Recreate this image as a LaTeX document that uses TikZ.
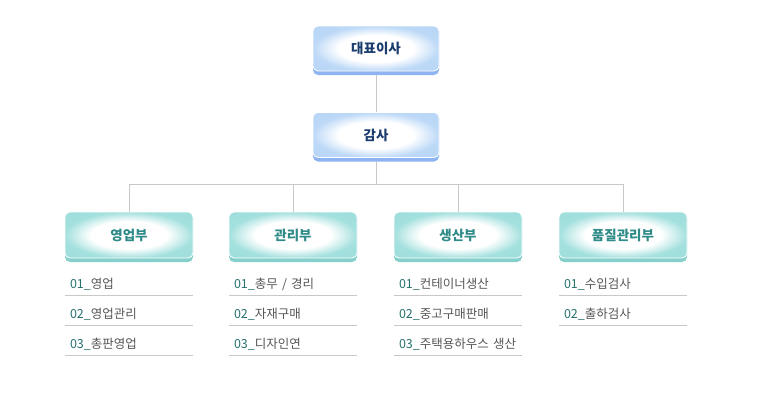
\documentclass[tikz,border=0pt]{standalone}
\usepackage{fontspec}
\setmainfont{Noto Sans CJK KR}
\definecolor{topband}{HTML}{8DB4F0}
\definecolor{toptext}{HTML}{1B3C6E}
\definecolor{depband}{HTML}{86D0CC}
\definecolor{deptext}{HTML}{2E8B88}
\definecolor{numtext}{HTML}{26706E}
\definecolor{itemtext}{HTML}{555555}
\definecolor{linegray}{HTML}{C8C8C8}
\pgfdeclareradialshading{softblue}{\pgfpoint{0bp}{0bp}}{rgb(0bp)=(1,1,1); rgb(15bp)=(1,1,1); rgb(25bp)=(0.74,0.85,0.97); rgb(50bp)=(0.68,0.81,0.96)}
\pgfdeclareradialshading{softteal}{\pgfpoint{0bp}{0bp}}{rgb(0bp)=(1,1,1); rgb(15bp)=(1,1,1); rgb(25bp)=(0.64,0.88,0.87); rgb(50bp)=(0.57,0.85,0.84)}
\begin{document}
\begin{tikzpicture}[x=1pt,y=-1pt,
  topbox/.style={rounded corners=5pt, draw=white, line width=0.8pt, shading=softblue, minimum width=126pt, minimum height=45pt, font=\fontsize{13.5}{15}\selectfont\bfseries, text=toptext},
  topbnd/.style={rounded corners=5pt, fill=topband, minimum width=126pt, minimum height=49pt},
  depbox/.style={rounded corners=5pt, draw=white, line width=0.8pt, shading=softteal, minimum width=128pt, minimum height=46pt, font=\fontsize{13.5}{15}\selectfont\bfseries, text=deptext},
  depbnd/.style={rounded corners=5pt, fill=depband, minimum width=128pt, minimum height=50pt},
  item/.style={anchor=center, minimum width=128pt, text width=118pt, minimum height=22pt, inner xsep=5pt, align=left, font=\fontsize{12.5}{14}\selectfont, text=itemtext,
     append after command={(\tikzlastnode.south west) edge[draw=linegray, line width=0.8pt] (\tikzlastnode.south east)}},
  conn/.style={draw=linegray, line width=0.8pt}
]
\useasboundingbox (0,0) rectangle (761,400);
% top
\node[topbnd] (ceob) at (376,50.5) {};
\node[topbox] (ceo) at (376,48.5) {대표이사};
\node[topbnd] (audb) at (376,137) {};
\node[topbox] (aud) at (376,135) {감사};
\coordinate (j) at (376,184);
\draw[conn] (ceob.south) -- (aud.north);
\draw[conn] (audb.south) -- (j);
% departments
\foreach \n/\x/\t in {d1/129/영업부, d2/293/관리부, d3/458/생산부, d4/623/품질관리부}{
  \node[depbnd] (\n b) at (\x,237) {};
  \node[depbox] (\n) at (\x,235) {\t};
  \draw[conn] (\n.north) |- (j);
}
% items
\newcommand{\itm}[2]{\textcolor{numtext}{#1\_}#2}
\node[item] (a1) at (129,284) {\itm{01}{영업}};
\node[item] (a2) at (129,314) {\itm{02}{영업관리}};
\node[item] (a3) at (129,344) {\itm{03}{총판영업}};
\node[item] (b1) at (293,284) {\itm{01}{총무 / 경리}};
\node[item] (b2) at (293,314) {\itm{02}{자재구매}};
\node[item] (b3) at (293,344) {\itm{03}{디자인연}};
\node[item] (c1) at (458,284) {\itm{01}{컨테이너생산}};
\node[item] (c2) at (458,314) {\itm{02}{중고구매판매}};
\node[item] (c3) at (458,344) {\itm{03}{주택용하우스 생산}};
\node[item] (e1) at (623,284) {\itm{01}{수입검사}};
\node[item] (e2) at (623,314) {\itm{02}{출하검사}};
\end{tikzpicture}
\end{document}
